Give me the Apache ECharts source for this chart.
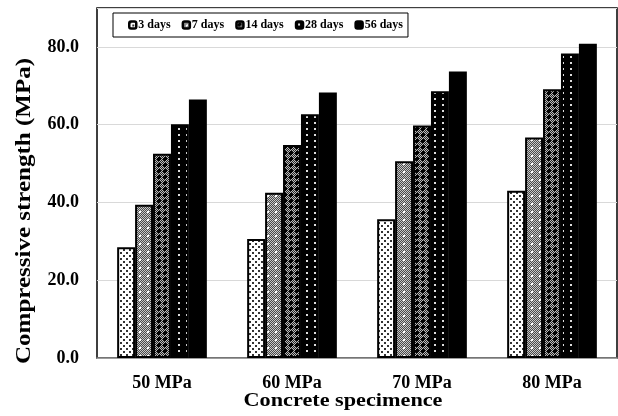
<!DOCTYPE html>
<html>
<head>
<meta charset="utf-8">
<script src="https://cdn.jsdelivr.net/npm/echarts@6/dist/echarts.min.js"></script>
<style>
html,body{margin:0;padding:0;background:#fff;}
#chart{width:618px;height:416px;}
</style>
</head>
<body>
<div id="chart"></div>
<script>
const categories = ['50 MPa', '60 MPa', '70 MPa', '80 MPa'];
const seriesNames = ['3 days', '7 days', '14 days', '28 days', '56 days'];
const days3 = [28.5, 30.6, 35.7, 43.0];
const days7 = [39.4, 42.5, 50.6, 56.7];
const days14 = [52.5, 54.8, 59.8, 69.1];
const days28 = [60.1, 62.7, 68.6, 78.3];
const days56 = [66.5, 68.3, 73.7, 80.8];
const yTicks = [0, 20, 40, 60, 80];
const xTitle = 'Concrete specimence';
const yTitle = 'Compressive strength (MPa)';

function tile(w, h, draw) {
  const c = document.createElement('canvas');
  c.width = w; c.height = h;
  const ctx = c.getContext('2d');
  draw(ctx);
  return { image: c, repeat: 'repeat' };
}
function px(ctx, x, y, col, s) { ctx.fillStyle = col; ctx.fillRect(x, y, s || 1, s || 1); }

const patterns = [
  // 3 days: white with staggered dark dots
  tile(6, 6, ctx => {
    ctx.fillStyle = '#fff'; ctx.fillRect(0, 0, 6, 6);
    px(ctx, 0, 0, '#333', 2); px(ctx, 3, 3, '#333', 2);
  }),
  // 7 days: fine gray checker with white dots
  tile(8, 8, ctx => {
    for (let y = 0; y < 8; y++) for (let x = 0; x < 8; x++)
      px(ctx, x, y, ((x + y) % 2) ? '#4a4a4a' : '#c8c8c8');
    px(ctx, 3, 3, '#fff', 2);
  }),
  // 14 days: dark crosshatch
  tile(6, 6, ctx => {
    for (let y = 0; y < 6; y++) for (let x = 0; x < 6; x++)
      px(ctx, x, y, ((x + y) % 2) ? '#222' : '#bbb');
    ctx.fillStyle = '#000';
    ctx.fillRect(2, 1, 2, 4); ctx.fillRect(1, 2, 4, 2);
  }),
  // 28 days: black with white dots
  tile(8, 6, ctx => {
    ctx.fillStyle = '#000'; ctx.fillRect(0, 0, 8, 6);
    px(ctx, 2, 2, '#ddd', 2);
  }),
  // 56 days: solid black
  '#000'
];

const dataSets = [days3, days7, days14, days28, days56];
const FONT = '"Liberation Serif", "Times New Roman", serif';

const chart = echarts.init(document.getElementById('chart'));
chart.setOption({
  animation: false,
  backgroundColor: '#fff',
  grid: {
    left: 97, top: 8, width: 520, height: 350,
    containLabel: false, outerBoundsMode: 'none',
    show: true, borderColor: '#000', borderWidth: 1.5, backgroundColor: 'transparent'
  },
  legend: {
    left: 113, top: 13,
    data: seriesNames,
    backgroundColor: '#fff',
    borderColor: '#000', borderWidth: 1,
    padding: [6, 5, 6, 15],
    itemGap: 11,
    itemWidth: 7, itemHeight: 7,
    icon: 'roundRect',
    itemStyle: { borderColor: '#000', borderWidth: 2.5 },
    textStyle: { fontFamily: FONT, fontWeight: 'bold', fontSize: 12, color: '#000', padding: [0, 0, 0, -3] }
  },
  graphic: [
    {
      type: 'text', x: 343, y: 401, scaleX: 1.17, scaleY: 1,
      style: { text: xTitle, font: 'bold 19px ' + FONT, fill: '#000', align: 'center', verticalAlign: 'middle' }
    },
    {
      type: 'text', x: 25, y: 211, rotation: Math.PI / 2, scaleX: 1.25, scaleY: 1,
      style: { text: yTitle, font: 'bold 20px ' + FONT, fill: '#000', align: 'center', verticalAlign: 'middle' }
    }
  ],
  xAxis: {
    type: 'category',
    data: categories,
    axisLine: { lineStyle: { color: '#888', width: 1.5 } },
    axisTick: { show: false },
    axisLabel: { fontFamily: FONT, fontWeight: 'bold', fontSize: 18, color: '#000', margin: 16 }
  },
  yAxis: {
    type: 'value',
    min: 0, max: 90, interval: 20,
    axisLine: { show: false },
    axisTick: { show: false },
    splitLine: { lineStyle: { color: '#d9d9d9', width: 1 } },
    axisLabel: {
      fontFamily: FONT, fontWeight: 'bold', fontSize: 18, color: '#000', margin: 18,
      showMaxLabel: false,
      formatter: v => (yTicks.indexOf(v) >= 0 ? v.toFixed(1) : '')
    }
  },
  series: seriesNames.map((n, i) => ({
    name: n,
    type: 'bar',
    data: dataSets[i],
    barGap: '0%',
    barCategoryGap: '31%',
    itemStyle: { color: patterns[i], borderColor: '#000', borderWidth: 2 }
  }))
});
</script>
</body>
</html>
